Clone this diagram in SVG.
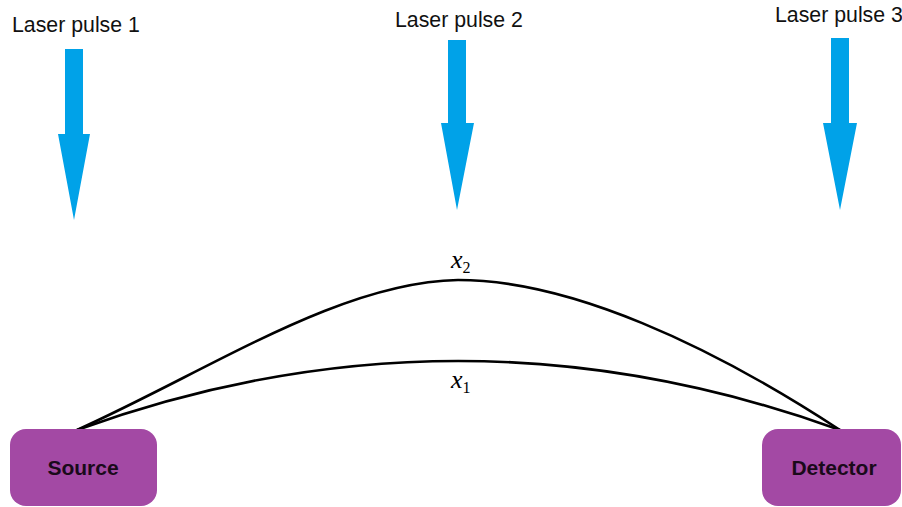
<svg xmlns="http://www.w3.org/2000/svg" width="902" height="507" viewBox="0 0 902 507">
<style>
.lbl{font-family:"Liberation Sans",Arial,sans-serif;font-size:21.3px;fill:#111}
.box{fill:#A349A4}
.bt{font-family:"Liberation Sans",Arial,sans-serif;font-size:21px;font-weight:bold;fill:#1a0a1a;text-anchor:middle}
.arrow{fill:#00A2E8}
.path{fill:none;stroke:#000;stroke-width:2.6}
.m{font-family:"Liberation Serif","Times New Roman",serif;font-style:italic;font-size:26px;fill:#000}
.s{font-family:"Liberation Serif","Times New Roman",serif;font-size:16px;fill:#000}
</style>
<rect width="902" height="507" fill="#fff"/>
<g id="pulse1">
<text class="lbl" x="12" y="32">Laser pulse 1</text>
<polygon class="arrow" points="65,49 83,49 83,134 90,134 74,220 58,134 65,134"/>
</g>
<g id="pulse2">
<text class="lbl" x="395" y="27">Laser pulse 2</text>
<polygon class="arrow" points="448,40 466,40 466,123 474,123 457,210 441,123 448,123"/>
</g>
<g id="pulse3">
<text class="lbl" x="775" y="22">Laser pulse 3</text>
<polygon class="arrow" points="831,38 849,38 849,123 857,123 840,210 823,123 831,123"/>
</g>
<g id="connectors">
<path class="path" d="M77,430 C210,370 340,282 458,280 C570,280 710,345 840,430"/>
<path class="path" d="M77,430 Q458,292 840,430"/>
</g>
<g id="label-x2">
<text x="451" y="268"><tspan class="m">x</tspan><tspan class="s" dy="5">2</tspan></text>
</g>
<g id="label-x1">
<text x="451" y="388"><tspan class="m">x</tspan><tspan class="s" dy="5">1</tspan></text>
</g>
<g id="source">
<rect class="box" x="10" y="429" width="147" height="77" rx="16"/>
<text class="bt" x="83" y="475">Source</text>
</g>
<g id="detector">
<rect class="box" x="762" y="429" width="139" height="77" rx="16"/>
<text class="bt" x="834" y="475">Detector</text>
</g>
</svg>
